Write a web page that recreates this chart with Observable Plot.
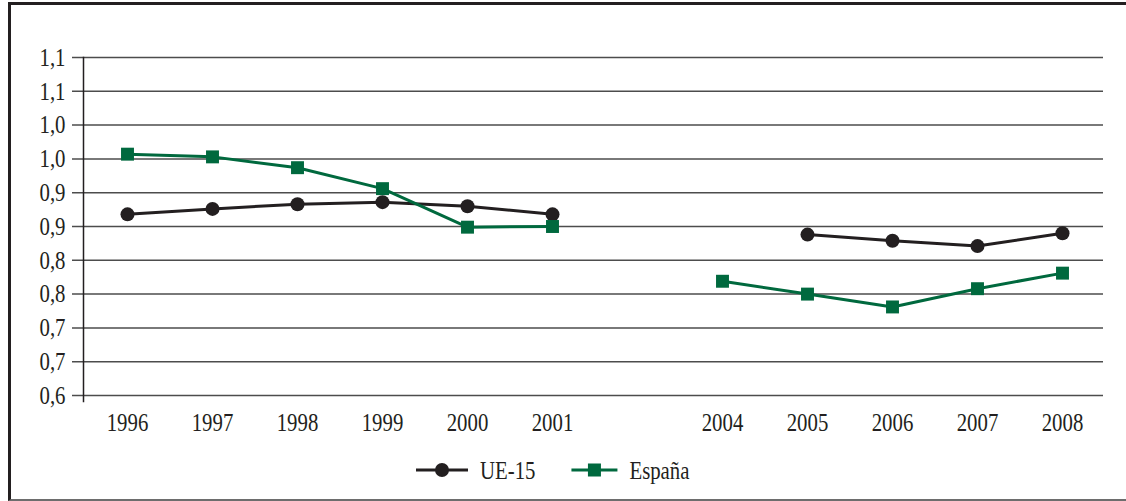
<!DOCTYPE html>
<html>
<head>
<meta charset="utf-8">
<script src="https://cdn.jsdelivr.net/npm/d3@7"></script>
<script src="https://cdn.jsdelivr.net/npm/@observablehq/plot@0.6"></script>
<style>
  html, body { margin: 0; padding: 0; background: #fff; overflow: hidden; width: 1126px; height: 501px; }
  #box { position: absolute; left: 8px; top: 2px; width: 1140px; height: 494px;
         border-left: 3px solid #231f20; border-top: 3px solid #231f20; border-bottom: 2px solid #6d6d6d; }
  #chart { position: absolute; left: 0; top: 0; }
  #legend { position: absolute; left: 0; top: 450px; }
</style>
</head>
<body>
<div id="box"></div>
<div id="chart"></div>
<svg id="legend" width="1126" height="40"></svg>
<script>
// ---- data ----
const years = ["1996", "1997", "1998", "1999", "2000", "2001", "", "2004", "2005", "2006", "2007", "2008"];
const xTickLabels = ["1996", "1997", "1998", "1999", "2000", "2001", "2004", "2005", "2006", "2007", "2008"];
const ue15 = [0.868, 0.876, 0.883, 0.886, 0.880, 0.868, null, null, 0.838, 0.829, 0.821, 0.840];
const espana = [0.957, 0.953, 0.937, 0.906, 0.849, 0.850, null, 0.769, 0.750, 0.731, 0.758, 0.781];
const yTicks = [0.6, 0.65, 0.7, 0.75, 0.8, 0.85, 0.9, 0.95, 1.0, 1.05, 1.1];
const yTickLabels = ["0,6", "0,7", "0,7", "0,8", "0,8", "0,9", "0,9", "1,0", "1,0", "1,1", "1,1"];
const seriesNames = ["UE-15", "España"];
const seriesKeys = ["ue15", "espana"];
const seriesColors = ["#231f20", "#00693e"];
const seriesSymbols = ["circle", "square"];

const rows = years.map((year, i) => ({year, ue15: ue15[i], espana: espana[i]}));

const textColor = "#231f20";
const font = "'Liberation Serif', 'Times New Roman', serif";
const condense = " scale(0.8,1)";

const seriesMarks = seriesKeys.flatMap((key, i) => [
  Plot.line(rows, {x: "year", y: key, stroke: seriesColors[i], strokeWidth: 3}),
  Plot.dot(rows, {x: "year", y: key, fill: seriesColors[i], stroke: "none",
                  symbol: seriesSymbols[i], r: seriesSymbols[i] === "square" ? 7.3 : 7})
]);

const chart = Plot.plot({
  width: 1126,
  height: 440,
  marginLeft: 72,
  marginRight: 23,
  marginTop: 57,
  marginBottom: 45,
  style: {fontFamily: font, fontSize: "26px", color: textColor, background: "transparent", overflow: "visible"},
  x: {type: "point", domain: years, range: [84, 1104], padding: 0.5, label: null},
  y: {domain: [0.6, 1.1], label: null},
  marks: [
    Plot.ruleY(yTicks, {stroke: "#4d4d4d", strokeWidth: 1.5}),
    Plot.frame({anchor: "left", insetLeft: 11, insetBottom: -6, stroke: textColor, strokeWidth: 1.5}),
    Plot.axisY({ticks: yTicks, tickSize: 0, tickPadding: 7, label: null,
                tickFormat: d => yTickLabels[yTicks.indexOf(d)], fill: textColor}),
    Plot.axisX({ticks: xTickLabels, tickSize: 0, tickPadding: 17, label: null, fill: textColor}),
    ...seriesMarks
  ]
});
document.getElementById("chart").appendChild(chart);

// condense the serif tick labels horizontally, around their anchor point
d3.select(chart).selectAll('g[aria-label="x-axis tick label"] text, g[aria-label="y-axis tick label"] text')
  .each(function () {
    const tr = this.getAttribute("transform") || "";
    this.setAttribute("transform", tr + condense);
  });

// ---- legend ----
const legend = d3.select("#legend");
let lx = 416;
const cy = 20;
seriesNames.forEach((name, i) => {
  const g = legend.append("g");
  const sw = i === 0 ? 52 : 46;
  g.append("line").attr("x1", lx).attr("x2", lx + sw).attr("y1", cy).attr("y2", cy)
    .attr("stroke", seriesColors[i]).attr("stroke-width", 3);
  const mid = lx + sw / 2;
  if (seriesSymbols[i] === "circle") {
    g.append("circle").attr("cx", mid).attr("cy", cy).attr("r", 7).attr("fill", seriesColors[i]);
  } else {
    g.append("rect").attr("x", mid - 6.5).attr("y", cy - 6.5).attr("width", 13).attr("height", 13)
      .attr("fill", seriesColors[i]);
  }
  const t = g.append("text")
    .attr("transform", `translate(${lx + sw + 12},${cy})` + condense)
    .attr("dy", "0.33em")
    .attr("fill", textColor).style("font-family", font).style("font-size", "26px").text(name);
  const w = t.node().getComputedTextLength() * 0.8;
  lx = lx + sw + 12 + w + 36;
});
</script>
</body>
</html>
